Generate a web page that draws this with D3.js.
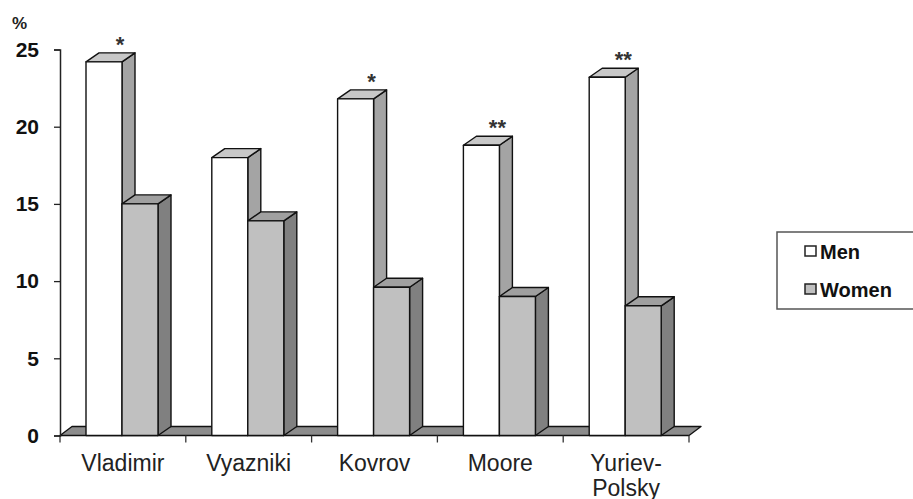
<!DOCTYPE html>
<html>
<head>
<meta charset="utf-8">
<script src="https://cdn.jsdelivr.net/npm/d3@7"></script>
<style>
  html, body { margin: 0; padding: 0; background: #fff; }
  svg { display: block; font-family: Arial, "Liberation Sans", sans-serif; }
</style>
</head>
<body>
<svg id="chart" width="913" height="499"></svg>
<script>
// Share of respondents (%) by town and sex
const towns = ["Vladimir", "Vyazniki", "Kovrov", "Moore", "Yuriev-Polsky"];
const townLabels = [["Vladimir"], ["Vyazniki"], ["Kovrov"], ["Moore"], ["Yuriev-", "Polsky"]];
const seriesNames = ["Men", "Women"];
const menValues = [24.2, 18.0, 21.8, 18.8, 23.2];
const womenValues = [15.0, 13.9, 9.6, 9.0, 8.4];
const significance = ["*", "", "*", "**", "**"];
const yTicks = [0, 5, 10, 15, 20, 25];

const svg = d3.select("#chart");

// 3D depth offset for bars and floor
const DX = 13, DY = 9;

const x = d3.scaleBand().domain(towns).range([60, 689]).paddingInner(0).paddingOuter(0);
const xs = d3.scaleBand().domain(seriesNames).range([26, 98]).padding(0);
const y = d3.scaleLinear().domain([0, 25]).range([435.5, 49.5]);

const faces = {
  Men:   { front: "#ffffff", top: "#c8c8c8", side: "#a4a4a4" },
  Women: { front: "#c0c0c0", top: "#a0a0a0", side: "#808080" }
};

// floor
const y0 = y(0);
const x0 = x.range()[0], x1 = x.range()[1];
svg.append("polygon")
  .attr("points", [[x0, y0], [x1, y0], [x1 + DX - 1, y0 - DY], [x0 + DX - 1, y0 - DY]].map(p => p.join(",")).join(" "))
  .attr("fill", "#8c8c8c").attr("stroke", "#111").attr("stroke-width", 1.3)
  .attr("stroke-linejoin", "round");

// category boundary ticks below the floor
svg.append("g").selectAll("line")
  .data(towns.map(t => x(t)).concat([x1]))
  .join("line")
  .attr("x1", d => d).attr("x2", d => d)
  .attr("y1", y0).attr("y2", y0 + 7)
  .attr("stroke", "#333").attr("stroke-width", 1.3);

// bars
const rows = [];
towns.forEach((t, i) => {
  rows.push({ town: t, series: "Men", value: menValues[i], i });
  rows.push({ town: t, series: "Women", value: womenValues[i], i });
});

const bars = svg.append("g").selectAll("g.bar").data(rows).join("g").attr("class", "bar");
bars.each(function (d) {
  const g = d3.select(this);
  const bx = x(d.town) + xs(d.series);
  const w = xs.bandwidth();
  const yt = y(d.value);
  const f = faces[d.series];
  const pts = a => a.map(p => p.join(",")).join(" ");
  g.append("polygon")
    .attr("points", pts([[bx + w, yt], [bx + w + DX, yt - DY], [bx + w + DX, y0 - DY], [bx + w, y0]]))
    .attr("fill", f.side);
  g.append("polygon")
    .attr("points", pts([[bx, yt], [bx + DX, yt - DY], [bx + w + DX, yt - DY], [bx + w, yt]]))
    .attr("fill", f.top);
  g.append("rect")
    .attr("x", bx).attr("y", yt).attr("width", w).attr("height", y0 - yt)
    .attr("fill", f.front);
  g.selectAll("polygon, rect")
    .attr("stroke", "#111").attr("stroke-width", 1.4).attr("stroke-linejoin", "round");
});

// significance marks above the men's bars
svg.append("g").selectAll("text")
  .data(towns.map((t, i) => ({ t, s: significance[i], v: menValues[i] })).filter(d => d.s))
  .join("text")
  .attr("x", d => x(d.t) + xs("Men") + xs.bandwidth() - 2)
  .attr("y", d => y(d.v) - 10)
  .attr("text-anchor", "middle")
  .attr("font-size", 22).attr("font-weight", "bold").attr("fill", "#333")
  .text(d => d.s);

// y axis
const yAxis = d3.axisLeft(y).tickValues(yTicks).tickSize(6).tickPadding(15);
const ga = svg.append("g").attr("transform", "translate(60,0)").call(yAxis);
ga.select(".domain").attr("stroke", "#222").attr("stroke-width", 1.5);
ga.selectAll(".tick line").attr("stroke", "#222").attr("stroke-width", 1.3);
ga.selectAll(".tick text")
  .attr("font-size", 21).attr("font-weight", "bold").attr("fill", "#111")
  .attr("font-family", "Arial, 'Liberation Sans', sans-serif");

svg.append("text").attr("x", 12).attr("y", 29)
  .attr("font-size", 17).attr("font-weight", "bold").attr("fill", "#222")
  .text("%");

// category labels
const lab = svg.append("g").selectAll("text").data(towns).join("text")
  .attr("x", t => x(t) + x.bandwidth() / 2)
  .attr("y", 471)
  .attr("text-anchor", "middle")
  .attr("font-size", 23).attr("fill", "#222");
lab.each(function (t, i) {
  d3.select(this).selectAll("tspan").data(townLabels[i]).join("tspan")
    .attr("x", x(t) + x.bandwidth() / 2)
    .attr("dy", (d, k) => k === 0 ? 0 : 25)
    .text(d => d);
});

// legend
const lg = svg.append("g");
lg.append("rect").attr("x", 777).attr("y", 232).attr("width", 160).attr("height", 77)
  .attr("fill", "#fff").attr("stroke", "#555").attr("stroke-width", 1.5);
const legendItems = lg.selectAll("g.item").data(seriesNames).join("g").attr("class", "item")
  .attr("transform", (d, i) => `translate(0,${i * 38})`);
legendItems.append("rect")
  .attr("x", 805).attr("y", 246).attr("width", 11).attr("height", 10)
  .attr("fill", d => faces[d].front).attr("stroke", "#222").attr("stroke-width", 1.5);
legendItems.append("text")
  .attr("x", 820).attr("y", 259)
  .attr("font-size", 20).attr("font-weight", "bold").attr("fill", "#111")
  .text(d => d);
</script>
</body>
</html>
